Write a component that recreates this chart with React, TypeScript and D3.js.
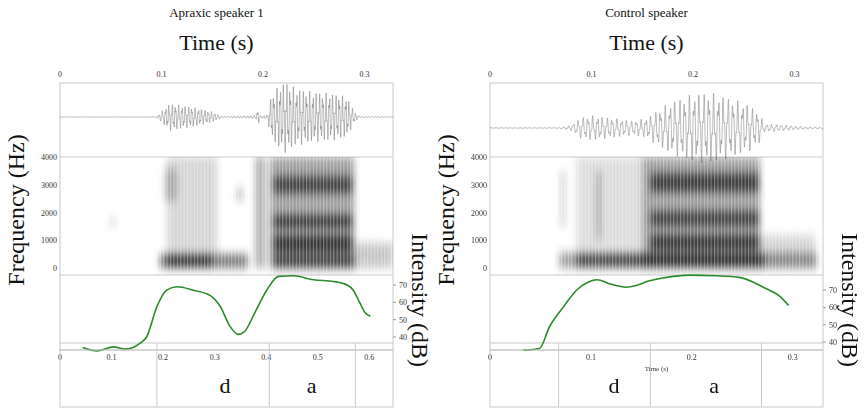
import * as d3 from 'd3';

// ---- data ----
const titles = ['Apraxic speaker 1', 'Control speaker'];
const waveTicks = [0, 0.1, 0.2, 0.3];
const freqTicks = [0, 1000, 2000, 3000, 4000];
const dbTicks = [40, 50, 60, 70];
const leftTimeTicks = [0, 0.1, 0.2, 0.3, 0.4, 0.5, 0.6];
const rightTimeTicks = [0, 0.1, 0.2, 0.3];

// waveform envelopes: [time s, amplitude 0..1]
const envApraxic: [number, number][] = [
  [0, 0.01], [0.095, 0.01], [0.1, 0.15], [0.108, 0.38], [0.115, 0.35], [0.13, 0.28], [0.15, 0.15], [0.16, 0.02],
  [0.18, 0.03], [0.193, 0.05], [0.195, 0.25], [0.197, 0.04], [0.204, 0.05], [0.208, 0.6], [0.215, 0.85],
  [0.222, 1], [0.232, 0.8], [0.25, 0.7], [0.27, 0.65], [0.283, 0.55], [0.29, 0.15], [0.295, 0.02], [0.328, 0.01],
];
const envControl: [number, number][] = [
  [0, 0.01], [0.068, 0.01], [0.08, 0.08], [0.09, 0.3], [0.1, 0.35], [0.12, 0.28], [0.14, 0.2], [0.155, 0.28],
  [0.165, 0.5], [0.18, 0.75], [0.2, 0.95], [0.215, 1], [0.235, 0.85], [0.255, 0.65], [0.265, 0.45],
  [0.27, 0.12], [0.29, 0.08], [0.31, 0.04], [0.328, 0.02],
];

// spectrogram regions: [t0, t1, f0, f1, darkness]
const specApraxic: [number, number, number, number, number][] = [
  [0.098, 0.185, 0, 500, 0.7], [0.105, 0.15, 50, 450, 0.85], [0.105, 0.155, 500, 4000, 0.22],
  [0.103, 0.115, 2400, 3600, 0.3], [0.05, 0.054, 1500, 1800, 0.3], [0.174, 0.18, 2400, 2900, 0.35],
  [0.193, 0.195, 0, 4000, 0.85], [0.197, 0.199, 0, 4000, 0.8], [0.201, 0.203, 0, 4000, 0.6],
  [0.207, 0.29, 0, 4000, 0.5], [0.21, 0.288, 2700, 3300, 0.8], [0.21, 0.288, 1450, 1900, 0.9],
  [0.21, 0.288, 550, 1200, 0.9], [0.21, 0.29, 0, 450, 0.85], [0.29, 0.328, 0, 900, 0.3],
];
const specControl: [number, number, number, number, number][] = [
  [0.068, 0.322, 0, 550, 0.5], [0.085, 0.27, 50, 500, 0.8], [0.07, 0.074, 1500, 3500, 0.3],
  [0.085, 0.15, 600, 4000, 0.18], [0.104, 0.11, 1000, 3500, 0.3], [0.15, 0.266, 0, 4000, 0.5],
  [0.158, 0.265, 2750, 3400, 0.85], [0.158, 0.265, 1500, 2050, 0.8], [0.158, 0.265, 650, 1200, 0.9],
  [0.266, 0.32, 0, 1200, 0.22],
];

// intensity contours: [time s, dB]
const intApraxic: [number, number][] = [
  [0.044, 34], [0.073, 32], [0.104, 34.3], [0.126, 33], [0.155, 36.3], [0.168, 40], [0.188, 57.5],
  [0.207, 67], [0.227, 69], [0.259, 67], [0.291, 64], [0.311, 57.5], [0.33, 46], [0.346, 41.5],
  [0.359, 43.5], [0.378, 54], [0.401, 67], [0.424, 75], [0.453, 75.3], [0.492, 73], [0.531, 72],
  [0.557, 70], [0.569, 67], [0.582, 59.5], [0.592, 54], [0.602, 52],
];
const intControl: [number, number][] = [
  [0.033, 35.3], [0.049, 36.3], [0.059, 48.8], [0.073, 60.4], [0.086, 70], [0.096, 74.2], [0.106, 75.9],
  [0.119, 73.5], [0.135, 71.6], [0.145, 72.6], [0.158, 75.3], [0.172, 77], [0.198, 78.6], [0.224, 78.2],
  [0.247, 77.3], [0.261, 74.5], [0.274, 70.7], [0.287, 66.5], [0.296, 61],
];

const boundsApraxic = [0.188, 0.406, 0.573];
const boundsControl = [0.068, 0.159, 0.269];
const labelsApraxic = [{ t: 0.32, s: 'd' }, { t: 0.488, s: 'a' }];
const labelsControl = [{ t: 0.123, s: 'd' }, { t: 0.222, s: 'a' }];

const panels = [
  { x0: 60, env: envApraxic, spec: specApraxic, int: intApraxic, tMax: 0.646, tTicks: leftTimeTicks, bounds: boundsApraxic, labels: labelsApraxic, db: [285, 337], f0: 310, timeLabel: false },
  { x0: 490, env: envControl, spec: specControl, int: intControl, tMax: 0.33, tTicks: rightTimeTicks, bounds: boundsControl, labels: labelsControl, db: [290, 342], f0: 210, timeLabel: true },
];

const W = 333;
const serif = '"Liberation Serif", "DejaVu Serif", serif';
const grid = '#c8c8c8';
const ink = '#333';

function Panel({ p, i }: { p: typeof panels[number]; i: number }) {
  const x0 = p.x0;
  const xw = d3.scaleLinear().domain([0, 0.328]).range([x0, x0 + W]);
  const xt = d3.scaleLinear().domain([0, p.tMax]).range([x0, x0 + W]);
  const yf = d3.scaleLinear().domain([0, 4000]).range([268, 157]);
  const yd = d3.scaleLinear().domain([40, 70]).range([p.db[1], p.db[0]]);
  const cy = i === 0 ? 117 : 128;
  const envF = d3.scaleLinear().domain(p.env.map((d) => d[0])).range(p.env.map((d) => d[1])).clamp(true);
  const n = 4000;
  const samples = d3.range(n).map((k) => {
    const t = (k / n) * 0.328;
    const a = envF(t);
    const v = Math.sin(2 * Math.PI * p.f0 * t) * 0.7 + Math.sin(2 * Math.PI * p.f0 * 2.6 * t) * 0.3;
    return [xw(t), cy - a * 36 * v] as [number, number];
  });
  const wave = d3.line()(samples) ?? '';
  const line = d3.line<[number, number]>().x((d) => xt(d[0])).y((d) => yd(d[1])).curve(d3.curveMonotoneX);
  const fid = `blur${i}`;
  const pid = `stripe${i}`;
  return (
    <g fontFamily={serif}>
      <defs>
        <filter id={fid} x="-10%" y="-10%" width="120%" height="120%">
          <feGaussianBlur stdDeviation="3 5" />
        </filter>
        <pattern id={pid} width="3.4" height="5" patternUnits="userSpaceOnUse">
          <rect x="0" y="0" width="1.1" height="5" fill="#fff" opacity="0.35" />
        </pattern>
        <clipPath id={`clip${i}`}><rect x={x0} y={157} width={W} height={118} /></clipPath>
      </defs>
      <text x={x0 + W / 2 - 10} y={17} textAnchor="middle" fontSize={13} fill="#111">{titles[i]}</text>
      <text x={x0 + W / 2 - 10} y={50} textAnchor="middle" fontSize={22} fill="#111">Time (s)</text>
      {waveTicks.map((t) => (
        <text key={t} x={xw(t)} y={77} textAnchor="middle" fontSize={8} fill={ink}>{t}</text>
      ))}
      <rect x={x0} y={83} width={W} height={267} fill="none" stroke={grid} />
      <line x1={x0} x2={x0 + W} y1={157} y2={157} stroke={grid} />
      <line x1={x0} x2={x0 + W} y1={275} y2={275} stroke={grid} />
      <line x1={x0} x2={x0 + W} y1={343} y2={343} stroke={grid} />
      <path d={wave} fill="none" stroke="#666" strokeWidth={0.45} />
      <g clipPath={`url(#clip${i})`}>
        <g filter={`url(#${fid})`}>
          {p.spec.map((s, k) => (
            <rect key={k} x={xw(s[0])} width={xw(s[1]) - xw(s[0])} y={yf(s[3])} height={yf(s[2]) - yf(s[3])} fill="#000" opacity={s[4] * 0.75} />
          ))}
        </g>
        <rect x={x0} y={157} width={W} height={118} fill={`url(#${pid})`} />
      </g>
      {freqTicks.map((f) => (
        <text key={f} x={x0 - 3} y={yf(f) + 3} textAnchor="end" fontSize={8} fill={ink}>{f}</text>
      ))}
      <path d={line(p.int) ?? ''} fill="none" stroke="#2a8a2a" strokeWidth={1.6} />
      {dbTicks.map((v) => (
        <g key={v}>
          <line x1={x0 + W} x2={x0 + W + 3} y1={yd(v)} y2={yd(v)} stroke="#999" />
          <text x={x0 + W + 6} y={yd(v) + 3} fontSize={8} fill={ink}>{v}</text>
        </g>
      ))}
      {p.tTicks.map((t) => (
        <text key={t} x={xt(t)} y={360} textAnchor="middle" fontSize={8} fill={ink}>{t}</text>
      ))}
      {p.timeLabel && <text x={xt(0.165)} y={371} textAnchor="middle" fontSize={7} fill={ink}>Time (s)</text>}
      <rect x={x0} y={350} width={W} height={57} fill="none" stroke={grid} />
      {p.bounds.map((b) => (
        <line key={b} x1={xt(b)} x2={xt(b)} y1={343} y2={407} stroke={grid} />
      ))}
      {p.labels.map((l) => (
        <text key={l.s} x={xt(l.t)} y={393} textAnchor="middle" fontSize={22} fill="#111">{l.s}</text>
      ))}
      <text transform={`translate(${x0 - 36},210) rotate(-90)`} textAnchor="middle" fontSize={24} fill="#111">Frequency (Hz)</text>
      <text transform={`translate(${x0 + W + 19},300) rotate(90)`} textAnchor="middle" fontSize={24} fill="#111">Intensity (dB)</text>
    </g>
  );
}

export default function App() {
  return (
    <svg width={867} height={410} style={{ position: 'absolute', left: 0, top: 0, background: '#fff' }}>
      <rect width={867} height={410} fill="#fff" />
      {panels.map((p, i) => <Panel key={i} p={p} i={i} />)}
    </svg>
  );
}
